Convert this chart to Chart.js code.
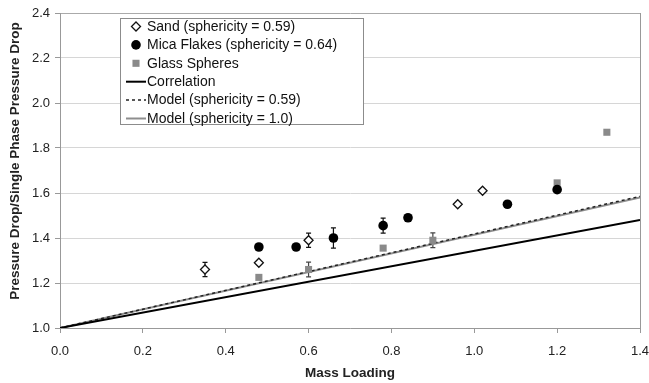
<!DOCTYPE html>
<html>
<head>
<meta charset="utf-8">
<script src="https://cdn.jsdelivr.net/npm/chart.js@4.4.1/dist/chart.umd.min.js"></script>
<style>
  html, body { margin: 0; padding: 0; background: #fff; }
  #wrap { width: 649px; height: 383px; }
</style>
</head>
<body>
<div id="wrap"><canvas id="lossChart" width="649" height="383"></canvas></div>
<script>
// --- DATA ---
const sandX = [0.35, 0.48, 0.60, 0.96, 1.02];
const sandY = [1.26, 1.29, 1.39, 1.55, 1.61];
const sandErr = [0.032, 0, 0.032, 0, 0];

const micaX = [0.48, 0.57, 0.66, 0.78, 0.84, 1.08, 1.20];
const micaY = [1.36, 1.36, 1.40, 1.455, 1.49, 1.55, 1.615];
const micaErr = [0, 0, 0.045, 0.033, 0, 0, 0];

const glassX = [0.48, 0.60, 0.78, 0.90, 1.20, 1.32];
const glassY = [1.225, 1.26, 1.355, 1.39, 1.645, 1.87];
const glassErr = [0, 0.033, 0, 0.033, 0, 0];

const lineX = [0.0, 1.4];
const correlationY = [1.0, 1.48];
const model059Y = [1.0, 1.585];
const model100Y = [1.0, 1.58];

const xTicks = [0.0, 0.2, 0.4, 0.6, 0.8, 1.0, 1.2, 1.4];
const yTicks = [1.0, 1.2, 1.4, 1.6, 1.8, 2.0, 2.2, 2.4];
const yTitle = 'Pressure Drop/Single Phase Pressure Drop';

const FONT = '"Liberation Sans", Arial, sans-serif';

const pts = (xs, ys) => xs.map((x, i) => ({ x: x, y: ys[i] }));

// error bars drawn through the chart scales
const errorBars = {
    id: 'errorBars',
    beforeDatasetsDraw(chart) {
        const c = chart.ctx, xs = chart.scales.x, ys = chart.scales.y;
        c.save();
        chart.data.datasets.forEach(ds => {
            if (!ds.errors) return;
            c.strokeStyle = ds.errColor;
            c.lineWidth = 1.2;
            ds.data.forEach((p, i) => {
                const e = ds.errors[i];
                if (!e) return;
                const px = xs.getPixelForValue(p.x);
                const top = ys.getPixelForValue(p.y + e);
                const bot = ys.getPixelForValue(p.y - e);
                c.beginPath();
                c.moveTo(px, top); c.lineTo(px, bot);
                c.moveTo(px - 2.5, top); c.lineTo(px + 2.5, top);
                c.moveTo(px - 2.5, bot); c.lineTo(px + 2.5, bot);
                c.stroke();
            });
        });
        c.restore();
    }
};

// rotated y title, placed a little above the plot middle like the original
const yAxisTitle = {
    id: 'yAxisTitle',
    afterDraw(chart) {
        const c = chart.ctx;
        c.save();
        c.translate(15, 161);
        c.rotate(-Math.PI / 2);
        c.font = 'bold 13.5px ' + FONT;
        c.fillStyle = '#222';
        c.textAlign = 'center';
        c.textBaseline = 'middle';
        c.fillText(yTitle, 0, 0);
        c.restore();
    }
};

// boxed legend inside the plot, Excel style
const boxLegend = {
    id: 'boxLegend',
    afterDraw(chart) {
        const c = chart.ctx;
        const L = 120, T = 18, R = 363, B = 124;
        c.save();
        c.fillStyle = '#fff';
        c.fillRect(L, T, R - L, B - T);
        c.strokeStyle = '#8c8c8c';
        c.lineWidth = 1;
        c.strokeRect(L + 0.5, T + 0.5, R - L, B - T);
        c.font = '14px ' + FONT;
        c.textBaseline = 'middle';
        c.textAlign = 'left';
        chart.data.datasets.forEach((ds, i) => {
            const y = 26.5 + i * 18.4;
            const mx = 136;
            if (ds.showLine) {
                c.strokeStyle = ds.borderColor;
                c.lineWidth = ds.borderWidth;
                c.setLineDash(ds.borderDash || []);
                c.beginPath();
                c.moveTo(126, y); c.lineTo(146, y);
                c.stroke();
                c.setLineDash([]);
            } else {
                const r = ds.pointRadius;
                c.fillStyle = ds.backgroundColor;
                c.strokeStyle = ds.borderColor;
                c.lineWidth = ds.borderWidth;
                c.beginPath();
                if (ds.pointStyle === 'rectRot') {
                    c.moveTo(mx, y - r); c.lineTo(mx + r, y); c.lineTo(mx, y + r); c.lineTo(mx - r, y); c.closePath();
                } else if (ds.pointStyle === 'rect') {
                    const s = r * Math.SQRT1_2;
                    c.rect(mx - s, y - s, 2 * s, 2 * s);
                } else {
                    c.arc(mx, y, r, 0, Math.PI * 2);
                }
                c.fill();
                if (ds.borderWidth) c.stroke();
            }
            c.fillStyle = '#111';
            c.fillText(ds.label, 147, y + 0.5);
        });
        c.restore();
    }
};

const ctx = document.getElementById('lossChart').getContext('2d');
const lossChart = new Chart(ctx, {
    type: 'scatter',
    data: {
        datasets: [
            { label: 'Sand (sphericity = 0.59)', data: pts(sandX, sandY), errors: sandErr, errColor: '#111',
              pointStyle: 'rectRot', pointRadius: 4.5, backgroundColor: '#fff', borderColor: '#111', borderWidth: 1.3 },
            { label: 'Mica Flakes (sphericity = 0.64)', data: pts(micaX, micaY), errors: micaErr, errColor: '#111',
              pointStyle: 'circle', pointRadius: 4.8, backgroundColor: '#000', borderColor: '#000', borderWidth: 0 },
            { label: 'Glass Spheres', data: pts(glassX, glassY), errors: glassErr, errColor: '#444',
              pointStyle: 'rect', pointRadius: 5, backgroundColor: '#8a8a8a', borderColor: '#8a8a8a', borderWidth: 0 },
            { label: 'Correlation', data: pts(lineX, correlationY), showLine: true, pointRadius: 0,
              borderColor: '#000', borderWidth: 2 },
            { label: 'Model (sphericity = 0.59)', data: pts(lineX, model059Y), showLine: true, pointRadius: 0,
              borderColor: '#222', borderWidth: 1.5, borderDash: [3, 3] },
            { label: 'Model (sphericity = 1.0)', data: pts(lineX, model100Y), showLine: true, pointRadius: 0,
              borderColor: '#8e8e8e', borderWidth: 2 }
        ]
    },
    options: {
        responsive: false,
        animation: false,
        layout: { padding: { left: 2, top: 13, right: 9, bottom: 0 } },
        plugins: { legend: { display: false }, tooltip: { enabled: false } },
        scales: {
            x: {
                type: 'linear', min: 0, max: 1.4,
                afterBuildTicks: s => { s.ticks = xTicks.map(v => ({ value: v })); },
                afterFit: s => { s.height = 55; s.paddingLeft = 0; s.paddingRight = 0; },
                ticks: { color: '#222', font: { family: FONT, size: 13 }, padding: 11,
                         callback: v => v.toFixed(1) },
                grid: { drawOnChartArea: true, tickLength: 5, tickColor: '#999',
                        color: c => (c.tick && c.tick.value === 1.4) ? '#999' : 'rgba(0,0,0,0)' },
                border: { color: '#999' },
                title: { display: true, text: 'Mass Loading', color: '#222',
                         font: { family: FONT, size: 13.5, weight: 'bold' }, padding: { top: 2, bottom: 2 } }
            },
            y: {
                type: 'linear', min: 1.0, max: 2.4,
                afterBuildTicks: s => { s.ticks = yTicks.map(v => ({ value: v })); },
                afterFit: s => { s.width = 58; },
                ticks: { color: '#222', font: { family: FONT, size: 13 }, padding: 5,
                         callback: v => v.toFixed(1) },
                grid: { tickLength: 5, tickColor: '#999',
                        color: c => (c.tick && c.tick.value === 2.4) ? '#aaa' : '#d6d6d6' },
                border: { color: '#999' },
                title: { display: false }
            }
        }
    },
    plugins: [errorBars, yAxisTitle, boxLegend]
});
</script>
</body>
</html>
